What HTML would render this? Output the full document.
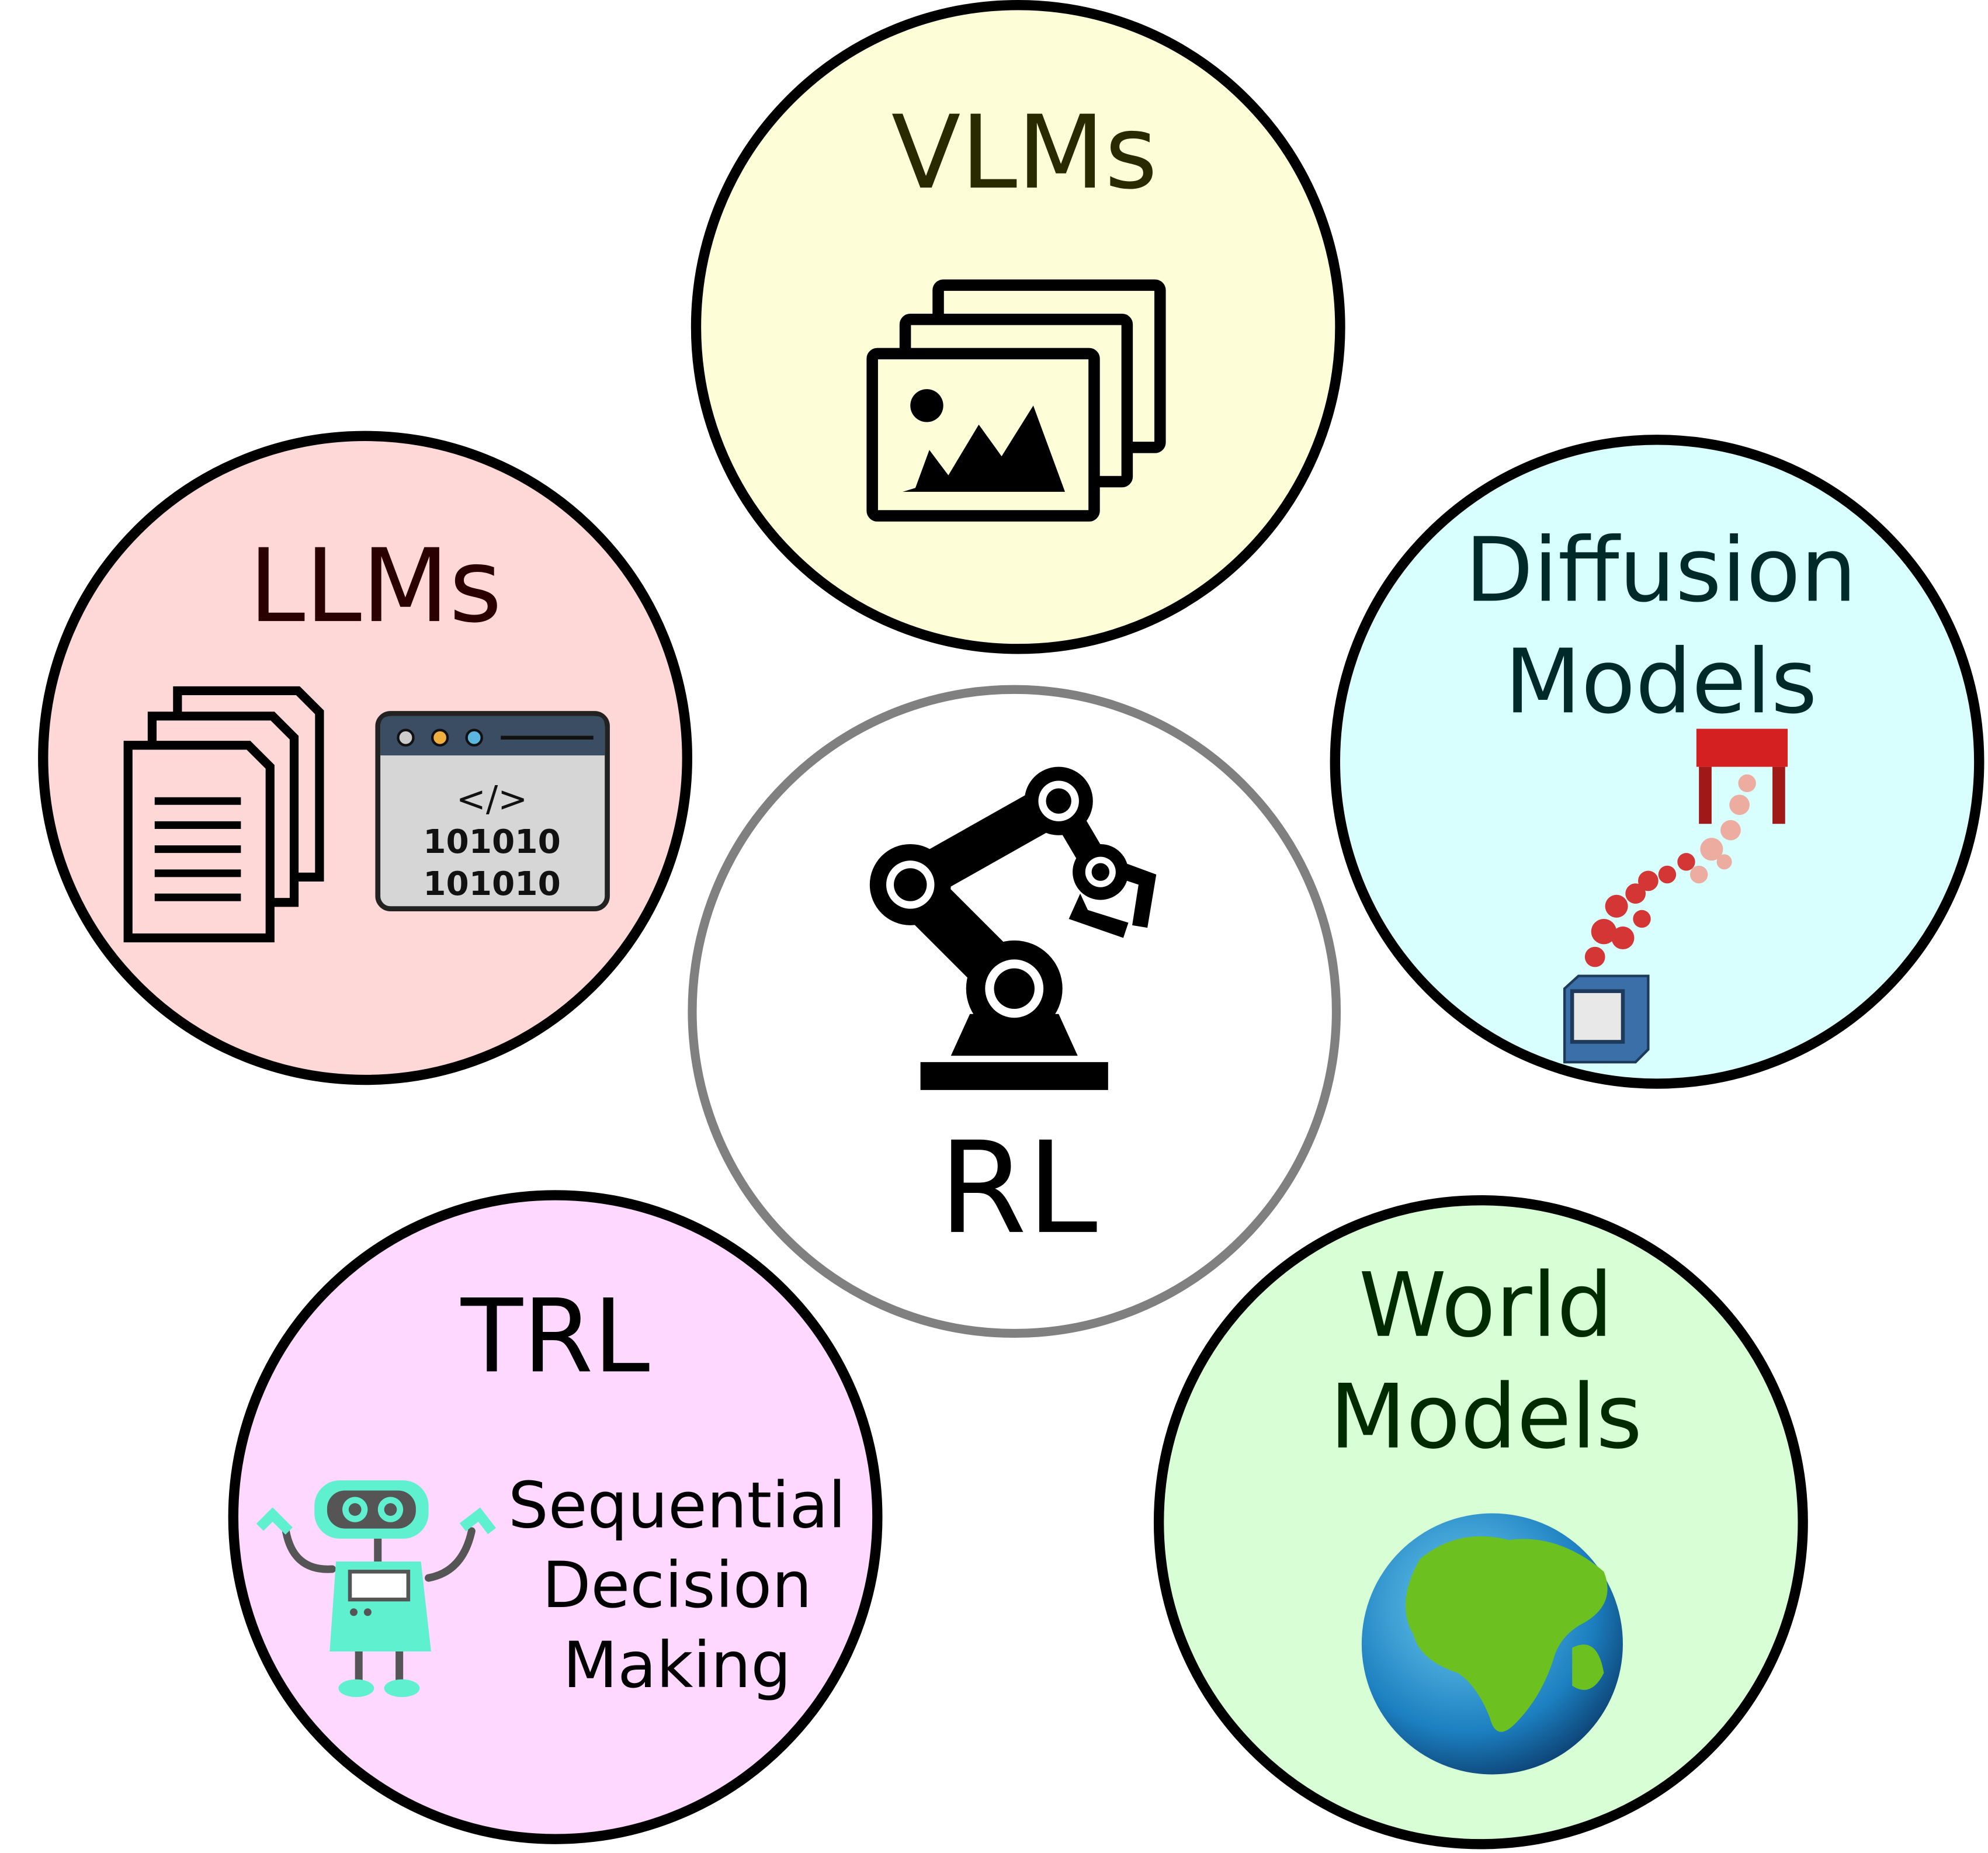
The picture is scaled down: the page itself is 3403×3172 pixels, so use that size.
<!DOCTYPE html>
<html><head><meta charset="utf-8">
<style>
html,body{margin:0;padding:0;background:#fff;}
svg{display:block;}
text{font-family:"DejaVu Sans","Liberation Sans",sans-serif;}
</style></head>
<body>
<svg width="3403" height="3172" viewBox="0 0 1568 1462" preserveAspectRatio="none" xmlns="http://www.w3.org/2000/svg">
<!-- circles -->
<circle cx="803" cy="258" r="254" fill="#fdfed8" stroke="#000" stroke-width="8"/>
<circle cx="288" cy="598" r="254" fill="#fed8d6" stroke="#000" stroke-width="8"/>
<circle cx="1307" cy="601" r="254" fill="#d8fefe" stroke="#000" stroke-width="8"/>
<circle cx="438" cy="1197" r="254" fill="#fed8fe" stroke="#000" stroke-width="8"/>
<circle cx="1168" cy="1201" r="254" fill="#d8fed6" stroke="#000" stroke-width="8"/>
<circle cx="800" cy="798" r="254" fill="#fff" stroke="#808080" stroke-width="7"/>

<!-- texts -->
<text x="808" y="148" font-size="80" text-anchor="middle" fill="#2a2a00">VLMs</text>
<text x="296" y="490" font-size="80" text-anchor="middle" fill="#2a0000">LLMs</text>
<text x="1310" y="474" font-size="70" text-anchor="middle" fill="#002a2a">Diffusion</text>
<text x="1310" y="562" font-size="70" text-anchor="middle" fill="#002a2a">Models</text>
<text x="803" y="972" font-size="100" text-anchor="middle" fill="#000">RL</text>
<text x="438" y="1082" font-size="80" text-anchor="middle" fill="#000">TRL</text>
<text x="534" y="1205" font-size="50" text-anchor="middle" fill="#000">Sequential</text>
<text x="534" y="1268" font-size="50" text-anchor="middle" fill="#000">Decision</text>
<text x="534" y="1331" font-size="50" text-anchor="middle" fill="#000">Making</text>
<text x="1172" y="1054" font-size="70" text-anchor="middle" fill="#002a00">World</text>
<text x="1172" y="1142" font-size="70" text-anchor="middle" fill="#002a00">Models</text>

<!-- VLM image stack -->
<g fill="none" stroke="#000" stroke-width="9">
<rect x="740" y="225" width="175" height="128" rx="4"/>
<rect x="714" y="252" width="175" height="128" rx="4" fill="#fdfed8"/>
<rect x="688" y="279" width="175" height="128" rx="4" fill="#fdfed8"/>
</g>
<circle cx="731" cy="320" r="13" fill="#000"/>
<polygon points="712,388 840,388 815,320 790,360 772,335 748,375 733,355 722,385" fill="#000"/>

<!-- LLM docs -->
<g stroke="#000" stroke-width="7" fill="#fed8d6">
<path d="M140,545 H235 L252,562 V692 H140 Z"/>
<path d="M120,565 H215 L232,582 V712 H120 Z"/>
<path d="M101,588 H196 L213,605 V740 H101 Z"/>
</g>
<g stroke="#000" stroke-width="6">
<line x1="122" y1="632" x2="190" y2="632"/><line x1="122" y1="651" x2="190" y2="651"/>
<line x1="122" y1="670" x2="190" y2="670"/><line x1="122" y1="689" x2="190" y2="689"/>
<line x1="122" y1="708" x2="190" y2="708"/>
</g>
<!-- code window -->
<rect x="298" y="563" width="181" height="154" rx="10" fill="#d6d6d6" stroke="#222" stroke-width="4"/>
<path d="M300,596 V573 Q300,565 308,565 H470 Q477,565 477,573 V596 Z" fill="#3b4d63"/>
<circle cx="320" cy="582" r="6" fill="#ccc" stroke="#111" stroke-width="2"/>
<circle cx="347" cy="582" r="6" fill="#f0b040" stroke="#111" stroke-width="2"/>
<circle cx="374" cy="582" r="6" fill="#5bb6e0" stroke="#111" stroke-width="2"/>
<line x1="395" y1="582" x2="468" y2="582" stroke="#111" stroke-width="3"/>
<text x="388" y="640" font-size="28" text-anchor="middle" fill="#111" font-family="DejaVu Sans Mono">&lt;/&gt;</text>
<text x="388" y="673" font-size="26" text-anchor="middle" fill="#111" font-family="DejaVu Sans Mono" font-weight="bold">101010</text>
<text x="388" y="706" font-size="26" text-anchor="middle" fill="#111" font-family="DejaVu Sans Mono" font-weight="bold">101010</text>

<!-- Robot arm -->
<rect x="726" y="838" width="148" height="22" fill="#000"/>
<polygon points="750,833 850,833 835,800 765,800" fill="#000"/>
<line x1="718" y1="698" x2="800" y2="780" stroke="#000" stroke-width="40"/>
<line x1="718" y1="698" x2="835" y2="632" stroke="#000" stroke-width="34"/>
<line x1="835" y1="632" x2="868" y2="688" stroke="#000" stroke-width="22"/>
<circle cx="718" cy="698" r="32" fill="#000"/><circle cx="718" cy="698" r="19" fill="#fff"/><circle cx="718" cy="698" r="13" fill="#000"/>
<circle cx="800" cy="780" r="38" fill="#000"/><circle cx="800" cy="780" r="23" fill="#fff"/><circle cx="800" cy="780" r="16" fill="#000"/>
<circle cx="835" cy="632" r="27" fill="#000"/><circle cx="835" cy="632" r="16" fill="#fff"/><circle cx="835" cy="632" r="10" fill="#000"/>
<circle cx="868" cy="688" r="22" fill="#000"/><circle cx="868" cy="688" r="12" fill="#fff"/><circle cx="868" cy="688" r="7" fill="#000"/>
<path d="M852,705 L843,725 L886,740 L890,728 L858,718 Z" fill="#000"/>
<path d="M885,680 L912,690 L905,732 L893,730 L898,698 L880,692 Z" fill="#000"/>

<!-- Diffusion icon -->
<rect x="1338" y="575" width="72" height="30" fill="#d42020"/>
<rect x="1340" y="605" width="10" height="45" fill="#a01818"/>
<rect x="1398" y="605" width="10" height="45" fill="#a01818"/>
<g fill="#d42020" opacity="0.9">
<circle cx="1275" cy="715" r="9"/><circle cx="1290" cy="705" r="8"/><circle cx="1265" cy="735" r="10"/>
<circle cx="1300" cy="695" r="8"/><circle cx="1280" cy="740" r="9"/><circle cx="1315" cy="690" r="7"/>
<circle cx="1258" cy="755" r="8"/><circle cx="1295" cy="725" r="7"/><circle cx="1330" cy="680" r="7"/>
</g>
<g fill="#f0a090" opacity="0.85">
<circle cx="1350" cy="670" r="9"/><circle cx="1365" cy="655" r="8"/><circle cx="1372" cy="635" r="8"/>
<circle cx="1340" cy="690" r="7"/><circle cx="1378" cy="618" r="7"/><circle cx="1360" cy="680" r="6"/>
</g>
<polygon points="1234,780 1245,770 1300,770 1300,828 1290,838 1234,838" fill="#3a6fa8" stroke="#1d3a5a" stroke-width="2"/>
<rect x="1240" y="782" width="40" height="40" fill="#e8e8e8" stroke="#1d3a5a" stroke-width="3"/>

<!-- TRL robot -->
<g stroke="#555" stroke-width="6" fill="none" stroke-linecap="round">
<path d="M262,1238 Q230,1240 225,1205"/>
<path d="M338,1245 Q365,1240 372,1208"/>
<line x1="283" y1="1300" x2="283" y2="1325"/><line x1="315" y1="1300" x2="315" y2="1325"/>
</g>
<path d="M205,1205 L215,1195 L228,1208" stroke="#5ff0d0" stroke-width="8" fill="none"/>
<path d="M365,1205 L378,1195 L388,1208" stroke="#5ff0d0" stroke-width="8" fill="none"/>
<rect x="248" y="1168" width="90" height="46" rx="20" fill="#5ff0d0"/>
<rect x="258" y="1176" width="70" height="30" rx="14" fill="#555"/>
<circle cx="280" cy="1191" r="10" fill="#5ff0d0"/><circle cx="280" cy="1191" r="5" fill="#555"/>
<circle cx="308" cy="1191" r="10" fill="#5ff0d0"/><circle cx="308" cy="1191" r="5" fill="#555"/>
<line x1="298" y1="1214" x2="298" y2="1232" stroke="#555" stroke-width="6"/>
<polygon points="265,1232 332,1232 340,1303 260,1303" fill="#5ff0d0"/>
<rect x="276" y="1240" width="46" height="22" fill="#fff" stroke="#555" stroke-width="3"/>
<circle cx="279" cy="1272" r="3" fill="#555"/><circle cx="290" cy="1272" r="3" fill="#555"/>
<ellipse cx="281" cy="1332" rx="14" ry="7" fill="#5ff0d0"/><ellipse cx="317" cy="1332" rx="14" ry="7" fill="#5ff0d0"/>

<!-- globe -->
<defs><radialGradient id="g" cx="40%" cy="35%" r="70%"><stop offset="0" stop-color="#6fd0f0"/><stop offset="0.7" stop-color="#1c7fc0"/><stop offset="1" stop-color="#0c3f70"/></radialGradient></defs>
<circle cx="1177" cy="1297" r="103" fill="url(#g)"/>
<path d="M1120,1230 Q1150,1205 1190,1215 Q1230,1210 1265,1240 Q1275,1265 1250,1280 Q1230,1290 1225,1310 Q1215,1340 1195,1360 Q1180,1375 1175,1355 Q1165,1330 1150,1320 Q1120,1310 1115,1290 Q1100,1265 1120,1230 Z" fill="#6cc020"/>
<path d="M1240,1300 Q1260,1290 1265,1320 Q1255,1340 1240,1330 Z" fill="#6cc020"/>
</svg>
</body></html>
